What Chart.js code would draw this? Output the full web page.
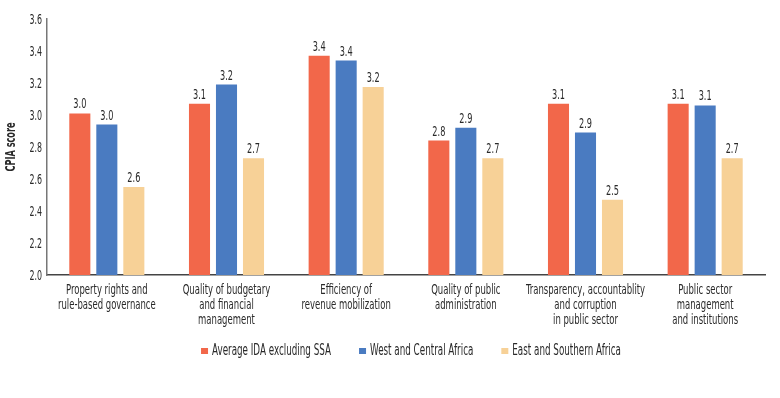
<!DOCTYPE html>
<html>
<head>
<meta charset="utf-8">
<script src="https://cdn.jsdelivr.net/npm/chart.js@4"></script>
<style>
  html, body { margin: 0; padding: 0; background: #fff; }
  #wrap { width: 780px; height: 398px; }
</style>
</head>
<body>
<div id="wrap"><canvas id="cpiaChart" width="780" height="398"></canvas></div>
<script>
// CPIA scores by cluster
const categories = [
    ['Property rights and', 'rule-based governance'],
    ['Quality of budgetary', 'and financial', 'management'],
    ['Efficiency of', 'revenue mobilization'],
    ['Quality of public', 'administration'],
    ['Transparency, accountablity', 'and corruption', 'in public sector'],
    ['Public sector', 'management', 'and institutions']
];
const seriesNames = ['Average IDA excluding SSA', 'West and Central Africa', 'East and Southern Africa'];
const idaValues  = [3.01, 3.07, 3.37, 2.84, 3.07, 3.07];
const wcaValues  = [2.94, 3.19, 3.34, 2.92, 2.89, 3.06];
const esaValues  = [2.55, 2.73, 3.175, 2.73, 2.47, 2.73];
const idaLabels  = ['3.0', '3.1', '3.4', '2.8', '3.1', '3.1'];
const wcaLabels  = ['3.0', '3.2', '3.4', '2.9', '2.9', '3.1'];
const esaLabels  = ['2.6', '2.7', '3.2', '2.7', '2.5', '2.7'];
const yTicks = [2.0, 2.2, 2.4, 2.6, 2.8, 3.0, 3.2, 3.4, 3.6];
const yTitle = 'CPIA score';

const colors = ['#F2674A', '#4A7BC1', '#F7D197'];
const textColor = '#2a2a2a';
const fontFamily = '"DejaVu Sans Condensed", "DejaVu Sans", sans-serif';
const squeeze = 0.65; // the original uses a condensed face

// draw text squeezed horizontally around (x, y)
function narrowText(ctx, str, x, y, align) {
    ctx.save();
    ctx.translate(x, y);
    ctx.scale(squeeze, 1);
    ctx.textAlign = align || 'center';
    ctx.fillText(str, 0, 0);
    ctx.restore();
}

// all text of the chart: value labels, axis labels, title, legend
const textLayer = {
    id: 'textLayer',
    afterDraw(chart) {
        const ctx = chart.ctx;
        const area = chart.chartArea;
        const xs = chart.scales.x, ys = chart.scales.y;
        ctx.save();
        ctx.fillStyle = textColor;
        ctx.textBaseline = 'alphabetic';

        // values above bars
        const texts = [idaLabels, wcaLabels, esaLabels];
        ctx.font = '14px ' + fontFamily;
        chart.data.datasets.forEach((ds, i) => {
            chart.getDatasetMeta(i).data.forEach((bar, j) => {
                narrowText(ctx, texts[i][j], bar.x, bar.y - 5);
            });
        });

        // y ticks
        ctx.font = '13.5px ' + fontFamily;
        yTicks.forEach(v => {
            narrowText(ctx, v.toFixed(1), area.left - 5, ys.getPixelForValue(v) + 5, 'right');
        });

        // y title
        ctx.save();
        ctx.translate(15, (area.top + area.bottom) / 2);
        ctx.rotate(-Math.PI / 2);
        ctx.font = 'bold 14px ' + fontFamily;
        narrowText(ctx, yTitle, 0, 0);
        ctx.restore();

        // category labels
        ctx.font = '14.5px ' + fontFamily;
        categories.forEach((lines, i) => {
            const x = xs.getPixelForTick(i);
            lines.forEach((line, k) => {
                narrowText(ctx, line, x, area.bottom + 19 + k * 15);
            });
        });

        // legend
        ctx.font = '15px ' + fontFamily;
        const gap = 28, box = 7, boxGap = 4;
        const widths = seriesNames.map(s => ctx.measureText(s).width * squeeze);
        const total = widths.reduce((a, w) => a + w + box + boxGap, 0) + gap * (seriesNames.length - 1);
        let lx = 411 - total / 2;
        const ly = 355;
        seriesNames.forEach((s, i) => {
            ctx.fillStyle = colors[i];
            ctx.fillRect(lx, ly - 7, box, 6);
            ctx.fillStyle = textColor;
            narrowText(ctx, s, lx + box + boxGap, ly, 'left');
            lx += box + boxGap + widths[i] + gap;
        });
        ctx.restore();
    }
};

const ctx = document.getElementById('cpiaChart').getContext('2d');
new Chart(ctx, {
    type: 'bar',
    data: {
        labels: categories,
        datasets: [
            { label: seriesNames[0], data: idaValues, backgroundColor: colors[0] },
            { label: seriesNames[1], data: wcaValues, backgroundColor: colors[1] },
            { label: seriesNames[2], data: esaValues, backgroundColor: colors[2] }
        ]
    },
    options: {
        responsive: false,
        animation: false,
        layout: { padding: { top: 19, right: 15, bottom: 115, left: 0 } },
        datasets: { bar: { categoryPercentage: 0.677, barPercentage: 0.78 } },
        plugins: {
            legend: { display: false },
            tooltip: { enabled: false }
        },
        scales: {
            x: {
                grid: { display: false },
                border: { color: '#444', width: 1.5 },
                ticks: { display: false }
            },
            y: {
                min: 2.0,
                max: 3.6,
                afterFit(scale) { scale.width = 47; },
                grid: { display: false },
                border: { color: '#777', width: 1.5 },
                ticks: { display: false, stepSize: 0.2 }
            }
        }
    },
    plugins: [textLayer]
});
</script>
</body>
</html>
